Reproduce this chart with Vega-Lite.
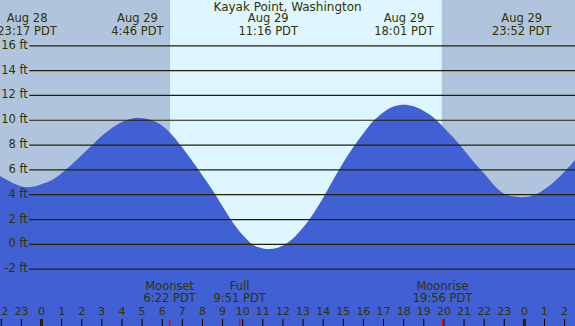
{
  "$schema": "https://vega.github.io/schema/vega-lite/v6.json",
  "width": 575,
  "height": 326,
  "padding": 0,
  "autosize": "none",
  "background": "#B0C4DE",
  "config": {"view": {"stroke": null}, "text": {"font": "DejaVu Sans", "fontSize": 11.5, "color": "#333300"}},
  "datasets": {
    "bg": [
      {"start": -2.063, "end": 6.39, "period": "night"},
      {"start": 6.39, "end": 19.9, "period": "day"},
      {"start": 19.9, "end": 26.516, "period": "night"}
    ],
    "tide": [
      {"hour": -2.063, "ft": 5.5}, {"hour": -1.5, "ft": 5.0}, {"hour": -1.0, "ft": 4.68}, {"hour": -0.72, "ft": 4.6},
      {"hour": -0.3, "ft": 4.68}, {"hour": 0, "ft": 4.84}, {"hour": 0.5, "ft": 5.16}, {"hour": 1, "ft": 5.73},
      {"hour": 1.5, "ft": 6.43}, {"hour": 2, "ft": 7.2}, {"hour": 2.5, "ft": 7.97}, {"hour": 3, "ft": 8.75},
      {"hour": 3.5, "ft": 9.38}, {"hour": 4, "ft": 9.86}, {"hour": 4.5, "ft": 10.14}, {"hour": 4.77, "ft": 10.2},
      {"hour": 5, "ft": 10.16}, {"hour": 5.5, "ft": 10.0}, {"hour": 6, "ft": 9.55}, {"hour": 6.5, "ft": 8.8},
      {"hour": 7, "ft": 7.8}, {"hour": 7.5, "ft": 6.7}, {"hour": 8, "ft": 5.55}, {"hour": 8.5, "ft": 4.35},
      {"hour": 9, "ft": 3.05}, {"hour": 9.5, "ft": 1.78}, {"hour": 10, "ft": 0.75}, {"hour": 10.5, "ft": -0.02},
      {"hour": 11, "ft": -0.33}, {"hour": 11.34, "ft": -0.38}, {"hour": 11.7, "ft": -0.3}, {"hour": 12, "ft": -0.1},
      {"hour": 12.5, "ft": 0.47}, {"hour": 13, "ft": 1.35}, {"hour": 13.5, "ft": 2.45}, {"hour": 14, "ft": 3.75},
      {"hour": 14.5, "ft": 5.2}, {"hour": 15, "ft": 6.6}, {"hour": 15.5, "ft": 7.85}, {"hour": 16, "ft": 8.95},
      {"hour": 16.5, "ft": 9.95}, {"hour": 17, "ft": 10.65}, {"hour": 17.5, "ft": 11.1}, {"hour": 18.0, "ft": 11.25},
      {"hour": 18.5, "ft": 11.12}, {"hour": 19, "ft": 10.75}, {"hour": 19.5, "ft": 10.2}, {"hour": 20, "ft": 9.4},
      {"hour": 20.5, "ft": 8.55}, {"hour": 21, "ft": 7.6}, {"hour": 21.5, "ft": 6.6}, {"hour": 22, "ft": 5.7},
      {"hour": 22.5, "ft": 4.75}, {"hour": 23, "ft": 4.08}, {"hour": 23.5, "ft": 3.85}, {"hour": 23.87, "ft": 3.8},
      {"hour": 24.2, "ft": 3.84}, {"hour": 24.6, "ft": 4.05}, {"hour": 25, "ft": 4.44}, {"hour": 25.5, "ft": 5.07},
      {"hour": 26, "ft": 5.87}, {"hour": 26.516, "ft": 6.8}
    ],
    "grid": [
      {"ft": -2, "label": "-2 ft"}, {"ft": 0, "label": "0 ft"}, {"ft": 2, "label": "2 ft"}, {"ft": 4, "label": "4 ft"},
      {"ft": 6, "label": "6 ft"}, {"ft": 8, "label": "8 ft"}, {"ft": 10, "label": "10 ft"}, {"ft": 12, "label": "12 ft"},
      {"ft": 14, "label": "14 ft"}, {"ft": 16, "label": "16 ft"}
    ],
    "hours": [
      {"hour": -2, "label": "22", "kind": "hour"}, {"hour": -1, "label": "23", "kind": "hour"},
      {"hour": 0, "label": "0", "kind": "midnight"}, {"hour": 1, "label": "1", "kind": "hour"},
      {"hour": 2, "label": "2", "kind": "hour"}, {"hour": 3, "label": "3", "kind": "hour"},
      {"hour": 4, "label": "4", "kind": "hour"}, {"hour": 5, "label": "5", "kind": "hour"},
      {"hour": 6, "label": "6", "kind": "hour"}, {"hour": 7, "label": "7", "kind": "hour"},
      {"hour": 8, "label": "8", "kind": "hour"}, {"hour": 9, "label": "9", "kind": "hour"},
      {"hour": 10, "label": "10", "kind": "hour"}, {"hour": 11, "label": "11", "kind": "hour"},
      {"hour": 12, "label": "12", "kind": "hour"}, {"hour": 13, "label": "13", "kind": "hour"},
      {"hour": 14, "label": "14", "kind": "hour"}, {"hour": 15, "label": "15", "kind": "hour"},
      {"hour": 16, "label": "16", "kind": "hour"}, {"hour": 17, "label": "17", "kind": "hour"},
      {"hour": 18, "label": "18", "kind": "hour"}, {"hour": 19, "label": "19", "kind": "hour"},
      {"hour": 20, "label": "20", "kind": "hour"}, {"hour": 21, "label": "21", "kind": "hour"},
      {"hour": 22, "label": "22", "kind": "hour"}, {"hour": 23, "label": "23", "kind": "hour"},
      {"hour": 24, "label": "0", "kind": "midnight"}, {"hour": 25, "label": "1", "kind": "hour"},
      {"hour": 26, "label": "2", "kind": "hour"}
    ],
    "moon": [
      {"hour": 6.367, "event": "Moonset", "time": "6:22 PDT"},
      {"hour": 9.85, "event": "Full", "time": "9:51 PDT"},
      {"hour": 19.933, "event": "Moonrise", "time": "19:56 PDT"}
    ],
    "extremes": [
      {"hour": -0.717, "date": "Aug 28", "time": "23:17 PDT"},
      {"hour": 4.767, "date": "Aug 29", "time": "4:46 PDT"},
      {"hour": 11.267, "date": "Aug 29", "time": "11:16 PDT"},
      {"hour": 18.017, "date": "Aug 29", "time": "18:01 PDT"},
      {"hour": 23.867, "date": "Aug 29", "time": "23:52 PDT"}
    ],
    "title": [{"text": "Kayak Point, Washington"}]
  },
  "layer": [
    {
      "data": {"name": "bg"},
      "mark": {"type": "rect"},
      "encoding": {
        "x": {"field": "start", "type": "quantitative", "axis": null, "scale": {"domain": [-2.063, 26.516], "nice": false, "zero": false}},
        "x2": {"field": "end"},
        "y": {"datum": 19.69, "type": "quantitative", "axis": null, "scale": {"domain": [-6.58, 19.69], "nice": false, "zero": false}},
        "y2": {"datum": -6.58},
        "color": {"field": "period", "type": "nominal", "legend": null, "scale": {"domain": ["day", "night"], "range": ["#DDF6FF", "#B0C4DE"]}}
      }
    },
    {
      "data": {"name": "tide"},
      "mark": {"type": "area", "interpolate": "monotone", "color": "#4060D4"},
      "encoding": {
        "x": {"field": "hour", "type": "quantitative"},
        "y": {"field": "ft", "type": "quantitative"},
        "y2": {"datum": -6.58}
      }
    },
    {
      "data": {"name": "grid"},
      "mark": {"type": "rule", "color": "#222200", "strokeWidth": 1.2},
      "encoding": {
        "x": {"datum": -0.606, "type": "quantitative"},
        "x2": {"datum": 26.516},
        "y": {"field": "ft", "type": "quantitative"}
      }
    },
    {
      "data": {"name": "grid"},
      "mark": {"type": "text", "align": "right", "baseline": "middle"},
      "encoding": {
        "x": {"datum": -0.68, "type": "quantitative"},
        "y": {"field": "ft", "type": "quantitative"},
        "text": {"field": "label"}
      }
    },
    {
      "data": {"name": "hours"},
      "transform": [{"filter": "datum.kind == 'hour'"}],
      "mark": {"type": "rule", "color": "#000000", "strokeWidth": 1},
      "encoding": {
        "x": {"field": "hour", "type": "quantitative"},
        "y": {"datum": -6.02, "type": "quantitative"},
        "y2": {"datum": -6.58}
      }
    },
    {
      "data": {"name": "hours"},
      "transform": [{"filter": "datum.kind == 'midnight'"}],
      "mark": {"type": "rule", "color": "#222200", "strokeWidth": 3},
      "encoding": {
        "x": {"field": "hour", "type": "quantitative"},
        "y": {"datum": -6.02, "type": "quantitative"},
        "y2": {"datum": -6.58}
      }
    },
    {
      "data": {"name": "hours"},
      "mark": {"type": "text", "align": "center", "baseline": "middle", "fontSize": 11},
      "encoding": {
        "x": {"field": "hour", "type": "quantitative"},
        "y": {"datum": -5.43, "type": "quantitative"},
        "text": {"field": "label"}
      }
    },
    {
      "data": {"name": "moon"},
      "mark": {"type": "rule", "color": "#FF0000", "strokeWidth": 1.5},
      "encoding": {
        "x": {"field": "hour", "type": "quantitative"},
        "y": {"datum": -6.02, "type": "quantitative"},
        "y2": {"datum": -6.58}
      }
    },
    {
      "data": {"name": "moon"},
      "mark": {"type": "text", "align": "center", "baseline": "middle"},
      "encoding": {
        "x": {"field": "hour", "type": "quantitative"},
        "y": {"datum": -3.465, "type": "quantitative"},
        "text": {"field": "event"}
      }
    },
    {
      "data": {"name": "moon"},
      "mark": {"type": "text", "align": "center", "baseline": "middle"},
      "encoding": {
        "x": {"field": "hour", "type": "quantitative"},
        "y": {"datum": -4.43, "type": "quantitative"},
        "text": {"field": "time"}
      }
    },
    {
      "data": {"name": "extremes"},
      "mark": {"type": "text", "align": "center", "baseline": "middle"},
      "encoding": {
        "x": {"field": "hour", "type": "quantitative"},
        "y": {"datum": 18.15, "type": "quantitative"},
        "text": {"field": "date"}
      }
    },
    {
      "data": {"name": "extremes"},
      "mark": {"type": "text", "align": "center", "baseline": "middle"},
      "encoding": {
        "x": {"field": "hour", "type": "quantitative"},
        "y": {"datum": 17.15, "type": "quantitative"},
        "text": {"field": "time"}
      }
    },
    {
      "data": {"name": "title"},
      "mark": {"type": "text", "align": "center", "baseline": "middle", "fontSize": 12},
      "encoding": {
        "x": {"datum": 12.23, "type": "quantitative"},
        "y": {"datum": 19.12, "type": "quantitative"},
        "text": {"field": "text"}
      }
    }
  ]
}
